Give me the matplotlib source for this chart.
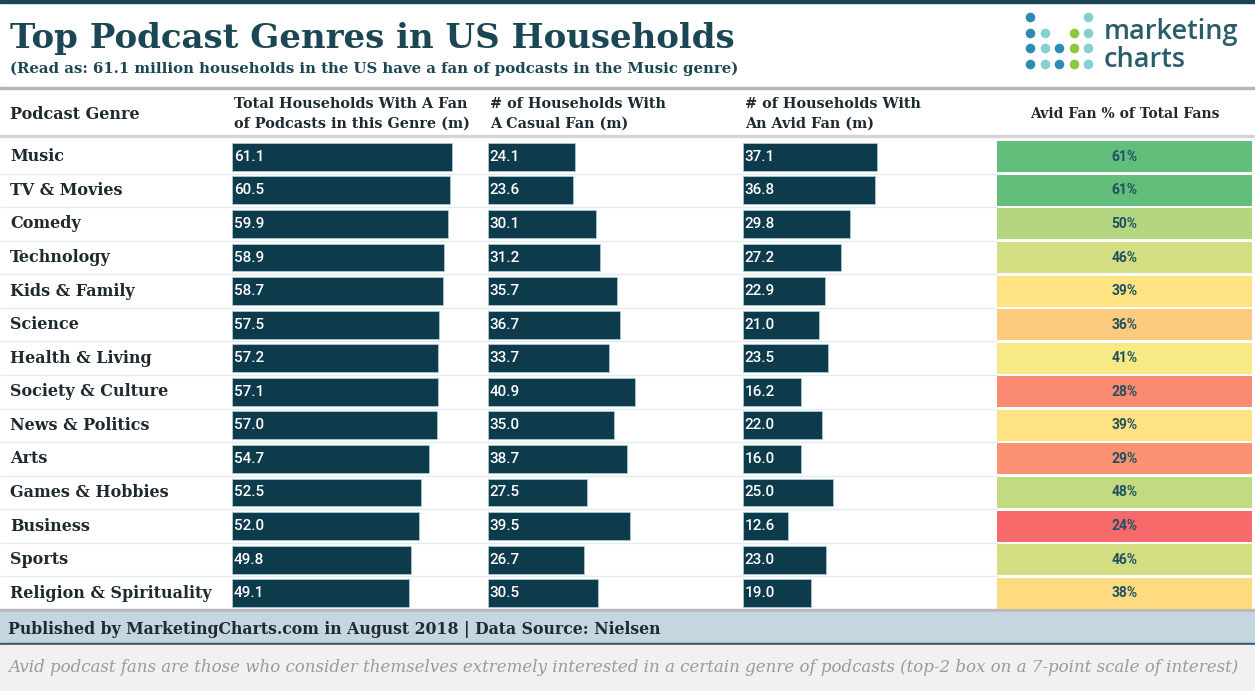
import numpy as np
import matplotlib.pyplot as plt
from matplotlib.colors import LinearSegmentedColormap, TwoSlopeNorm
from matplotlib.patches import Rectangle

genres = ['Music', 'TV & Movies', 'Comedy', 'Technology', 'Kids & Family', 'Science',
          'Health & Living', 'Society & Culture', 'News & Politics', 'Arts',
          'Games & Hobbies', 'Business', 'Sports', 'Religion & Spirituality']
total = [61.1, 60.5, 59.9, 58.9, 58.7, 57.5, 57.2, 57.1, 57.0, 54.7, 52.5, 52.0, 49.8, 49.1]
casual = [24.1, 23.6, 30.1, 31.2, 35.7, 36.7, 33.7, 40.9, 35.0, 38.7, 27.5, 39.5, 26.7, 30.5]
avid = [37.1, 36.8, 29.8, 27.2, 22.9, 21.0, 23.5, 16.2, 22.0, 16.0, 25.0, 12.6, 23.0, 19.0]
avid_pct = [61, 61, 50, 46, 39, 36, 41, 28, 39, 29, 48, 24, 46, 38]

headers = ['Podcast Genre',
           'Total Households With A Fan\nof Podcasts in this Genre (m)',
           '# of Households With\nA Casual Fan (m)',
           '# of Households With\nAn Avid Fan (m)',
           'Avid Fan % of Total Fans']

W, H = 1255, 691
DARK = '#1b4754'
BAR = '#0e3b4c'
SERIF = 'DejaVu Serif'


def box(x0, y0, x1, y1):
    return [x0 / W, 1 - y1 / H, (x1 - x0) / W, (y1 - y0) / H]


fig = plt.figure(figsize=(W / 100, H / 100), dpi=100)
fig.patch.set_facecolor('white')

# background / decoration layer in pixel units
bg = fig.add_axes([0, 0, 1, 1])
bg.set_xlim(0, W)
bg.set_ylim(H, 0)
bg.axis('off')
bg.add_patch(Rectangle((0, 0), W, 3, color=DARK))
bg.add_patch(Rectangle((0, 87), W, 2, color='#b5b5b5'))
bg.add_patch(Rectangle((0, 135), W, 2, color='#d5d5d5'))
bg.add_patch(Rectangle((0, 609), W, 3, color='#b8b8b8'))
bg.add_patch(Rectangle((0, 612), W, 32, color='#c5d6e1'))
bg.add_patch(Rectangle((0, 643), W, 2, color='#3c5663'))
bg.add_patch(Rectangle((0, 645), W, H - 645, color='#f1f1f1'))

bg.text(10, 48, 'Top Podcast Genres in US Households', fontsize=24.5, fontweight='bold',
        family=SERIF, color=DARK, va='baseline')
bg.text(10, 73, '(Read as: 61.1 million households in the US have a fan of podcasts in the Music genre)',
        fontsize=10.7, fontweight='bold', family=SERIF, color=DARK, va='baseline')

# logo
dot_cols = ['#2b8db3', '#84d0d0', '#2b8db3', '#8dc63f', '#84d0d0']
dot_rows = [[0, 4], [0, 1, 3, 4], [0, 1, 2, 3, 4], [0, 1, 2, 3, 4]]
for r, cols in enumerate(dot_rows):
    for c in cols:
        bg.scatter(1030 + c * 14.5, 17 + r * 15.5, s=48, color=dot_cols[c], lw=0)
bg.text(1104, 39, 'marketing', fontsize=19.5, family='Open Sans', fontweight='semibold',
        color='#2a5c6a', va='baseline')
bg.text(1104, 67, 'charts', fontsize=19.5, family='Open Sans', fontweight='semibold',
        color='#2a5c6a', va='baseline')

# header row
bg.text(10, 114, headers[0], fontsize=11.5, fontweight='bold', family=SERIF, color='#1f2a30', va='center')
for x, h in zip([234, 490, 745], headers[1:4]):
    bg.text(x, 114, h, fontsize=10.4, fontweight='bold', family=SERIF, color='#1f2a30',
            va='center', linespacing=1.5)
bg.text(1125, 114, headers[4], fontsize=10, fontweight='bold', family=SERIF, color='#1f2a30',
        va='center', ha='center')

bg.text(8, 629, 'Published by MarketingCharts.com in August 2018 | Data Source: Nielsen',
        fontsize=11.3, fontweight='bold', family=SERIF, color='#1e2b33', va='center')
bg.text(8, 667, 'Avid podcast fans are those who consider themselves extremely interested in a certain '
        'genre of podcasts (top-2 box on a 7-point scale of interest)',
        fontsize=12, style='italic', family=SERIF, color='#9a9a9a', va='center')

y = np.arange(len(genres))

# genre labels and row separators
rows = fig.add_axes(box(0, 140, W, 610))
rows.set_xlim(0, W)
rows.set_ylim(len(genres) - 0.5, -0.5)
rows.axis('off')
rows.hlines(y[:-1] + 0.5, 0, 997, color='#e4ebee', lw=1)
for i, g in enumerate(genres):
    rows.text(10, i, g, fontsize=11.5, fontweight='bold', family=SERIF, color='#1f2a30', va='center')

# bar columns
for x0, vals in zip([232, 488, 743], [total, casual, avid]):
    ax = fig.add_axes(box(x0, 140, x0 + 255, 610))
    ax.set_xlim(0, 255 / 3.6)
    ax.set_ylim(len(genres) - 0.5, -0.5)
    ax.axis('off')
    ax.barh(y, vals, height=0.83, color=BAR, edgecolor='#a8cbd6', linewidth=0.6)
    for i, v in enumerate(vals):
        ax.text(0.5, i, f'{v:.1f}', color='white', fontsize=11, family='Roboto',
                fontweight='medium', va='center')

# heatmap column
cmap = LinearSegmentedColormap.from_list('excel3', ['#f8696b', '#ffeb84', '#63be7b'])
norm = TwoSlopeNorm(vmin=min(avid_pct), vcenter=np.median(avid_pct), vmax=max(avid_pct))
hx = fig.add_axes(box(997, 140, 1252, 610))
hx.set_xlim(0, 1)
hx.set_ylim(len(genres) - 0.5, -0.5)
hx.axis('off')
hx.barh(y, [1] * len(y), height=0.92, color=[cmap(norm(v)) for v in avid_pct])
for i, v in enumerate(avid_pct):
    hx.text(0.5, i, f'{v}%', ha='center', va='center', fontsize=10, family='Roboto',
            fontweight='bold', color='#1d5160')

fig.savefig('out.png', dpi=100)
